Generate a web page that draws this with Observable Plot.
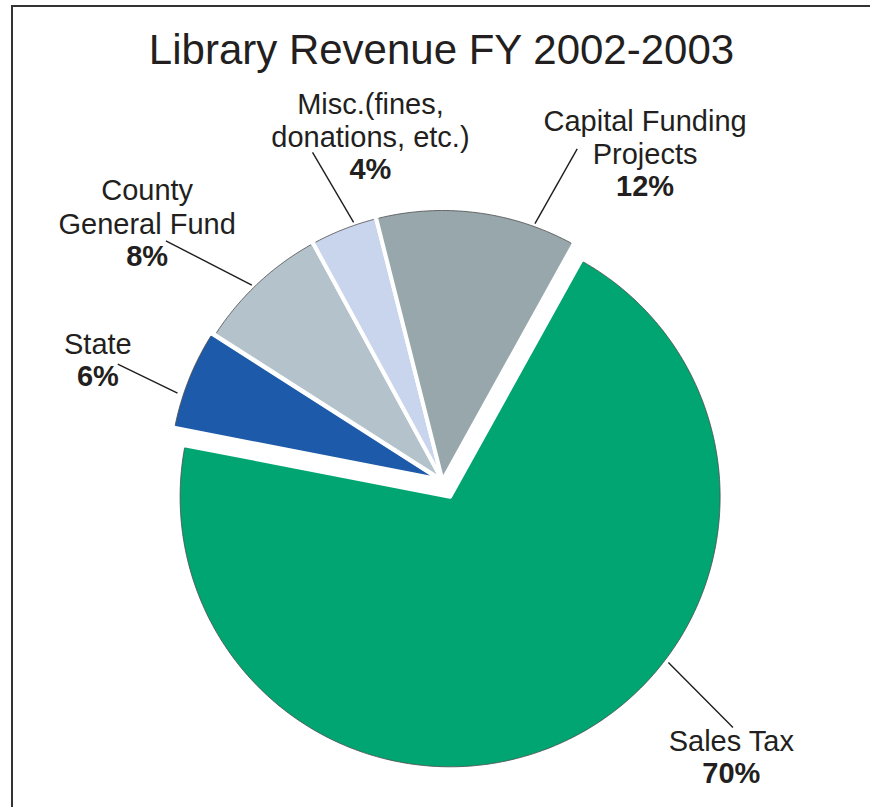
<!DOCTYPE html>
<html><head><meta charset="utf-8">
<script src="https://cdn.jsdelivr.net/npm/d3@7"></script>
<script src="https://cdn.jsdelivr.net/npm/@observablehq/plot@0.6"></script>
<style>
html,body{margin:0;padding:0;background:#fff;overflow:hidden;width:870px;height:807px;position:relative}
#frame{position:absolute;left:11px;top:5px;right:-20px;bottom:-20px;border-left:2px solid #333;border-top:2px solid #333;}
#chart{position:absolute;left:0;top:0}
</style></head><body>
<div id="frame"></div>
<div id="chart"></div>
<script>
// ---- data ----
const title = "Library Revenue FY 2002-2003";
const categories = ["Sales Tax", "State", "County\nGeneral Fund", "Misc.(fines,\ndonations, etc.)", "Capital Funding\nProjects"];
const shares = [70, 6, 8, 4, 12];
const percentLabels = ["70%", "6%", "8%", "4%", "12%"];
const colors = ["#00a572", "#1d5aa9", "#b4c3cb", "#c9d5ec", "#97a7ab"];

// ---- layout ----
const W = 870, H = 807;
const CX = 442, CY = 480;   // pie centre (px)
const R = 272;              // pie radius (px)
const START = 29;           // start angle (deg, clockwise from 12 o'clock)
const explode = [18, 3, 0, 0, 0];
const leaders = [           // [angle0, r0, angle1, r1] from the slice centre
  [127.2, 274, 129.2, 365],
  [-71.8, 276, -70.3, 342],
  [-44.3, 273, -49.1, 366],
  [-19.0, 273, -21.6, 353],
  [19.8, 273, 22.1, 358]
];
const labelPos = [[132.1, 379], [-69.9, 364], [-50.1, 385], [-12.2, 341], [32.6, 376]];
const font = "'Liberation Sans', Arial, Helvetica, sans-serif";

const rad = d => d * Math.PI / 180;
const pol = (deg, r) => [r * Math.sin(rad(deg)), -r * Math.cos(rad(deg))];

const arcs = d3.pie().sort(null).value(d => d)
  .startAngle(rad(START)).endAngle(rad(START + 360))(shares);

const offsets = arcs.map((a, i) => {
  const mid = (a.startAngle + a.endAngle) / 2;
  return [explode[i] * Math.sin(mid), -explode[i] * Math.cos(mid)];
});

const polys = [], rims = [];
arcs.forEach((a, i) => {
  const [ox, oy] = offsets[i];
  const name = categories[i];
  polys.push({name, x: ox, y: oy});
  const n = Math.max(2, Math.ceil((a.endAngle - a.startAngle) * 180 / Math.PI));
  for (let k = 0; k <= n; k++) {
    const t = a.startAngle + (a.endAngle - a.startAngle) * k / n;
    polys.push({name, x: ox + R * Math.sin(t), y: oy - R * Math.cos(t)});
  }
  const d = 3 / R, r2 = R - 2;
  for (let k = 0; k <= n; k++) {
    const t = a.startAngle + d + (a.endAngle - a.startAngle - 2 * d) * k / n;
    rims.push({name, x: ox + r2 * Math.sin(t), y: oy - r2 * Math.cos(t)});
  }
});

const links = leaders.map((l, i) => {
  const [ox, oy] = offsets[i];
  const [x1, y1] = pol(l[0], l[1]);
  const [x2, y2] = pol(l[2], l[3]);
  return {x1: x1 + ox, y1: y1 + oy, x2: x2 + ox, y2: y2 + oy};
});

const labels = labelPos.map((p, i) => {
  const [ox, oy] = offsets[i];
  const [x, y] = pol(p[0], p[1]);
  return {x: x + ox, y: y + oy, name: categories[i], pct: percentLabels[i]};
});

const chart = Plot.plot({
  width: W, height: H,
  margin: 0,
  style: {fontFamily: font, background: "transparent", overflow: "visible"},
  x: {domain: [-CX, W - CX], range: [0, W], axis: null},
  y: {domain: [-CY, H - CY], range: [0, H], axis: null},
  color: {type: "ordinal", domain: categories, range: colors},
  marks: [
    Plot.line(polys, {x: "x", y: "y", z: "name", fill: "name", stroke: "white", strokeWidth: 4, strokeLinejoin: "round", curve: "linear-closed"}),
    Plot.line(rims, {x: "x", y: "y", z: "name", stroke: "#4d4d4d", strokeWidth: 1, strokeOpacity: 0.8}),
    Plot.link(links, {x1: "x1", y1: "y1", x2: "x2", y2: "y2", stroke: "#1e1e1e", strokeWidth: 1.4}),
    Plot.text(labels, {x: "x", y: "y", text: "name", lineAnchor: "bottom", lineHeight: 1.14, fontSize: 29, fill: "#231f20", fontFamily: font}),
    Plot.text(labels, {x: "x", y: "y", text: "pct", lineAnchor: "bottom", dy: 32, fontSize: 29, fontWeight: "bold", fill: "#231f20", fontFamily: font}),
    Plot.text([title], {frameAnchor: "top", text: d => d, lineAnchor: "bottom", dy: 63, dx: 6, fontSize: 42, fill: "#231f20", fontFamily: font})
  ]
});
document.getElementById("chart").appendChild(chart);
</script>
</body></html>
